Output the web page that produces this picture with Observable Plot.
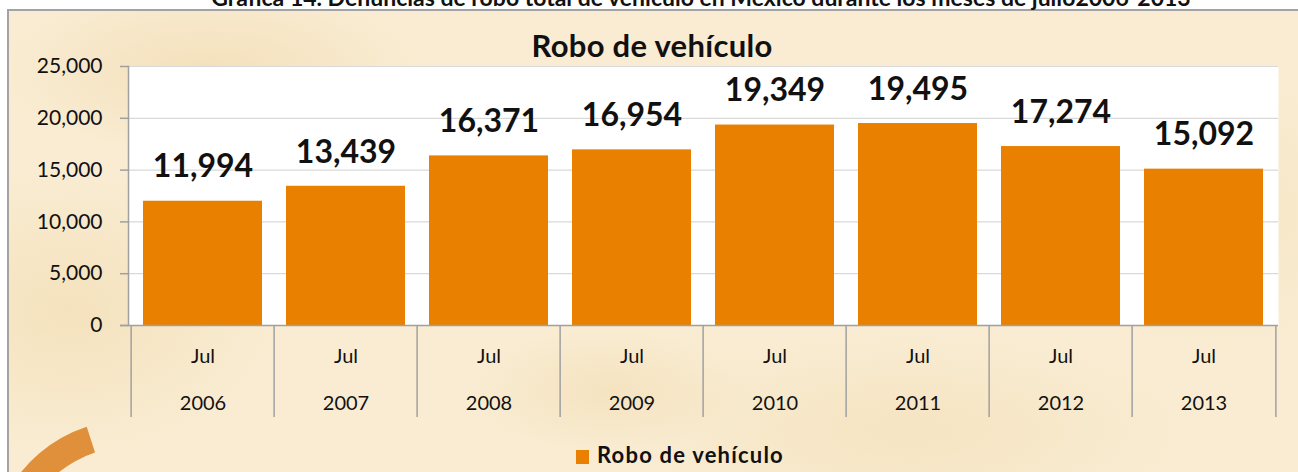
<!DOCTYPE html>
<html>
<head>
<meta charset="utf-8">
<script src="https://cdn.jsdelivr.net/npm/d3@7"></script>
<script src="https://cdn.jsdelivr.net/npm/@observablehq/plot@0.6"></script>
<style>
  html, body { margin: 0; padding: 0; background: #ffffff; width: 1298px; height: 472px; overflow: hidden; font-family: Lato, "Open Sans", sans-serif; }
  #page { position: relative; width: 1298px; height: 472px; overflow: hidden; }
  #frame {
    position: absolute; left: 7px; top: 9px; width: 1310px; height: 480px;
    border: 2px solid #a3a3a3; box-sizing: border-box;
    background:
      radial-gradient(ellipse 300px 120px at 200px 60px, rgba(240,214,168,0.55), rgba(240,214,168,0) 70%),
      radial-gradient(ellipse 400px 140px at 900px 420px, rgba(242,220,178,0.5), rgba(242,220,178,0) 70%),
      radial-gradient(ellipse 260px 200px at 1200px 200px, rgba(243,222,182,0.5), rgba(243,222,182,0) 70%),
      radial-gradient(ellipse 300px 200px at 60px 300px, rgba(241,218,172,0.55), rgba(241,218,172,0) 70%),
      radial-gradient(ellipse 200px 90px at 600px 380px, rgba(240,216,170,0.45), rgba(240,216,170,0) 70%),
      #f9ecd2;
  }
  #outerTitle { position: absolute; left: 0; width: 1402px; text-align: center; top: -14px; font-weight: 700; font-size: 23px; line-height: 23px; white-space: nowrap; color: #111; }
  #title { position: absolute; left: 0; width: 1304px; text-align: center; top: 30px; font-weight: 700; font-size: 31px; line-height: 31px; color: #111; letter-spacing: 0.3px; }
  #legend { position: absolute; left: 576px; top: 444px; font-weight: 700; font-size: 22px; line-height: 22px; color: #111; white-space: nowrap; letter-spacing: 1.2px; }
  #legend .sw { display: inline-block; width: 13px; height: 14px; background: #e98000; margin-right: 8px; vertical-align: -1px; }
  #arc {
    position: absolute; left: -10px; top: 420px; width: 280px; height: 280px; box-sizing: border-box;
    border-radius: 50%; border: 27px solid transparent; border-top-color: #e0903a;
    transform: rotate(-63deg);
  }
  #chart { position: absolute; left: 0; top: 0; }
</style>
</head>
<body>
<div id="page">
  <div id="frame"></div>
  <div id="arc"></div>
  <div id="outerTitle">Gráfica 14. Denuncias de robo total de vehículo en México durante los meses de julio2006-2013</div>
  <div id="title">Robo de vehículo</div>
  <div id="chart"></div>
  <div id="legend"><span class="sw"></span>Robo de vehículo</div>
</div>
<script>
const years = ["2006", "2007", "2008", "2009", "2010", "2011", "2012", "2013"];
const months = ["Jul", "Jul", "Jul", "Jul", "Jul", "Jul", "Jul", "Jul"];
const values = [11994, 13439, 16371, 16954, 19349, 19495, 17274, 15092];
const yTicks = [0, 5000, 10000, 15000, 20000, 25000];
const seriesName = "Robo de vehículo";

const data = years.map((y, i) => ({year: y, month: months[i], value: values[i]}));

const W = 1298, H = 472;
const mL = 128, mR = 20, mT = 66, mB = 147;
const step = (W - mL - mR) / years.length;
const plotH = H - mT - mB;
const fmt = d3.format(",");
const barColor = "#e98000";
const axisGray = "#a0a0a0";

const chart = Plot.plot({
  width: W,
  height: H,
  marginLeft: mL,
  marginRight: mR,
  marginTop: mT,
  marginBottom: mB,
  style: {fontFamily: "Lato, 'Open Sans', sans-serif", fontSize: "21px", background: "transparent", color: "#111", overflow: "visible"},
  x: {domain: years, paddingInner: 0.165, paddingOuter: 0.0825, axis: null},
  y: {domain: [0, 25000], axis: null},
  marks: [
    Plot.frame({fill: "white", stroke: null}),
    Plot.gridY(yTicks, {stroke: "#d9d9d9", strokeOpacity: 1, strokeWidth: 1.2}),
    Plot.barY(data, {x: "year", y: "value", fill: barColor}),
    Plot.text(data, {x: "year", y: "value", text: d => fmt(d.value), dy: -34, fontSize: 32, fontWeight: 700, fill: "#111", lineAnchor: "middle"}),
    Plot.frame({anchor: "left", stroke: axisGray, strokeWidth: 1.5}),
    Plot.ruleY([0], {stroke: axisGray, strokeWidth: 1.5, insetLeft: -8}),
    Plot.axisY(yTicks, {tickSize: 8, tickPadding: 18, stroke: axisGray, strokeWidth: 1.5, tickFormat: fmt, fontSize: 21, fill: "#111", label: null}),
    Plot.ruleX(years, {x: d => d, dx: -step / 2, stroke: axisGray, strokeWidth: 1.5, insetTop: plotH, insetBottom: -92}),
    Plot.ruleX([years[years.length - 1]], {x: d => d, dx: step / 2, stroke: axisGray, strokeWidth: 1.5, insetTop: plotH, insetBottom: -92}),
    Plot.text(data, {x: "year", text: "month", frameAnchor: "bottom", dy: 31, lineAnchor: "middle", fontSize: 20, fill: "#111"}),
    Plot.text(data, {x: "year", text: "year", frameAnchor: "bottom", dy: 78, lineAnchor: "middle", fontSize: 20, fill: "#111"})
  ]
});
document.getElementById("chart").appendChild(chart);
</script>
</body>
</html>
